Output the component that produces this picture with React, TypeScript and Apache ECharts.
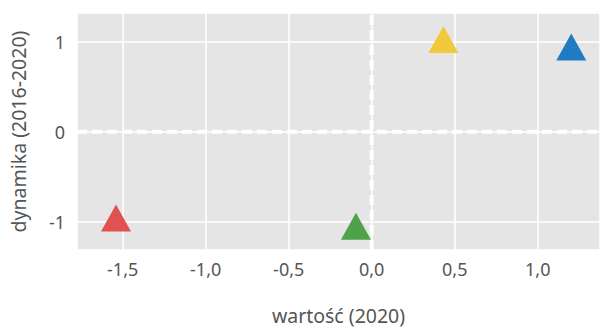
import React, { useEffect, useRef } from "react";
import * as echarts from "echarts";

const xValues = [-1.54, -0.095, 0.432, 1.202];
const yValues = [-1.01, -1.1, 0.976, 0.892];
const colors = ["#E05252", "#4FA24A", "#F0C93C", "#1F7CC4"];
const xTitle = "wartość (2020)";
const yTitle = "dynamika (2016-2020)";
const xRange = [-1.775, 1.375];
const yRange = [-1.315, 1.32];

const fmt = (v: number, d: number) => {
  if (Math.abs(v * 2 - Math.round(v * 2)) > 1e-6) return "";
  return v.toFixed(d).replace(".", ",");
};

export default function App() {
  const ref = useRef<HTMLDivElement>(null);
  useEffect(() => {
    if (!ref.current) return;
    const chart = echarts.init(ref.current, undefined, { renderer: "svg" });
    const textStyle = { color: "#555555", fontFamily: "Noto Sans", fontSize: 18 };
    const titleStyle = { ...textStyle, fontSize: 19.5 };
    const symH = 27;
    const dashStyle = { color: "#FFFFFF", width: 4, type: [10, 5] as any, opacity: 1 };
    chart.setOption({
      animation: false,
      grid: {
        left: 77,
        right: 0,
        top: 13,
        bottom: 81,
        show: true,
        backgroundColor: "#E5E5E5",
        borderWidth: 0,
      },
      xAxis: {
        type: "value",
        min: xRange[0],
        max: xRange[1],
        minInterval: 0.5,
        maxInterval: 0.5,
        name: xTitle,
        nameLocation: "middle",
        nameGap: 55,
        nameTextStyle: titleStyle,
        axisLine: { show: false },
        axisTick: { show: false },
        axisLabel: {
          ...textStyle,
          margin: 10,
          formatter: (v: number) => fmt(v, 1),
        },
        splitLine: { show: true, lineStyle: { color: "#FFFFFF", width: 1.5 } },
      },
      yAxis: {
        type: "value",
        min: yRange[0],
        max: yRange[1],
        minInterval: 1,
        maxInterval: 1,
        name: yTitle,
        nameLocation: "middle",
        nameGap: 49,
        nameTextStyle: titleStyle,
        axisLine: { show: false },
        axisTick: { show: false },
        axisLabel: {
          ...textStyle,
          margin: 12,
          formatter: (v: number) =>
            Math.abs(v - Math.round(v)) > 1e-6 ? "" : String(Math.round(v)),
        },
        splitLine: { show: true, lineStyle: { color: "#FFFFFF", width: 1.5 } },
      },
      series: [
        {
          type: "line",
          data: [[0, yRange[0]], [0, yRange[1]]],
          symbol: "none",
          lineStyle: dashStyle,
          emphasis: { disabled: true },
          silent: true,
          z: 2,
        },
        {
          type: "line",
          data: [[xRange[0], 0], [xRange[1], 0]],
          symbol: "none",
          lineStyle: dashStyle,
          emphasis: { disabled: true },
          silent: true,
          z: 2,
        },
        {
          type: "scatter",
          symbol: "triangle",
          symbolSize: [30, symH],
          symbolOffset: [0, -symH / 6],
          data: xValues.map((x, i) => ({
            value: [x, yValues[i]],
            itemStyle: { color: colors[i], opacity: 1 },
          })),
          z: 3,
        },
      ],
    });
    return () => chart.dispose();
  }, []);
  return <div ref={ref} style={{ width: 603, height: 331, position: "absolute", left: 0, top: 0 }} />;
}
